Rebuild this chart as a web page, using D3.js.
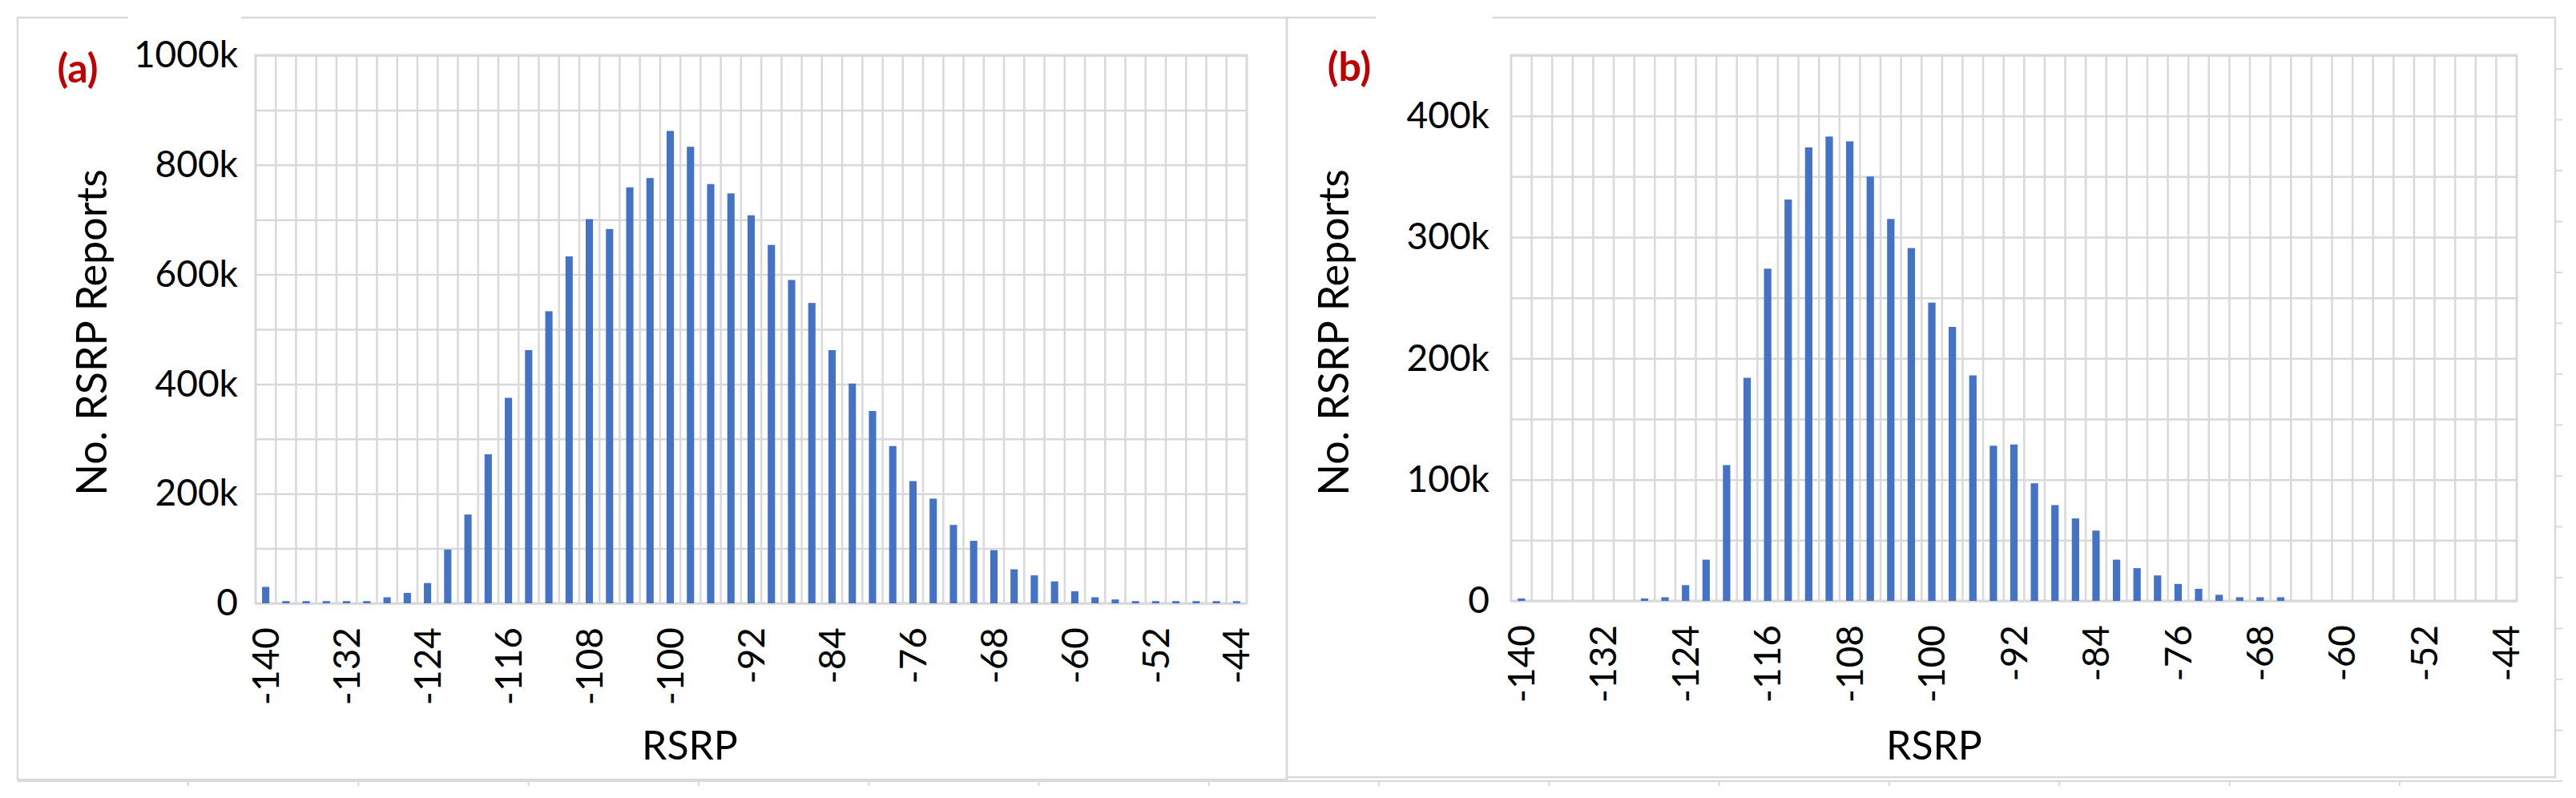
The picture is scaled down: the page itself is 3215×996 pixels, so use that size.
<!DOCTYPE html>
<html>
<head>
<meta charset="utf-8">
<script src="https://cdn.jsdelivr.net/npm/d3@7"></script>
<style>
    html, body { margin: 0; padding: 0; background: #fff; }
    svg { display: block; font-family: Lato, "Open Sans", sans-serif; }
</style>
</head>
<body>
<div id="chart"></div>
<script>
// RSRP bins (dBm), one bar each
const rsrp = [-140, -138, -136, -134, -132, -130, -128, -126, -124, -122,
              -120, -118, -116, -114, -112, -110, -108, -106, -104, -102,
              -100, -98, -96, -94, -92, -90, -88, -86, -84, -82,
              -80, -78, -76, -74, -72, -70, -68, -66, -64, -62,
              -60, -58, -56, -54, -52, -50, -48, -46, -44];

const xTickLabels = [-140, -132, -124, -116, -108, -100, -92, -84, -76, -68, -60, -52, -44];

// no. of RSRP reports, in thousands
const reportsA = [30, 4, 4, 4, 4, 4, 11, 19, 37, 98,
                  162, 272, 375, 462, 533, 633, 701, 683, 759, 776,
                  862, 833, 765, 748, 708, 654, 590, 548, 462, 401,
                  351, 287, 223, 191, 143, 114, 97, 62, 51, 40,
                  22, 11, 7, 4, 4, 4, 4, 4, 4];

const reportsB = [2, 0, 0, 0, 0, 0, 2, 3, 13, 34,
                  112, 184, 274, 331, 374, 383, 379, 350, 315, 291,
                  246, 226, 186, 128, 129, 97, 79, 68, 58, 34,
                  27, 21, 14, 10, 5, 3, 3, 3, 0, 0,
                  0, 0, 0, 0, 0, 0, 0, 0, 0];

const yTicksA = [0, 200, 400, 600, 800, 1000];
const yTicksB = [0, 100, 200, 300, 400];

document.addEventListener('DOMContentLoaded', function() {
    const width = 3215;
    const height = 996;
    const gridColor = '#d9d9d9';
    const barColor = '#4472C4';

    const svg = d3.select('#chart').append('svg')
        .attr('width', width)
        .attr('height', height);

    svg.append('rect').attr('width', width).attr('height', height).attr('fill', '#fff');

    // faint frame of the sheet behind the two charts
    const bg = svg.append('g').attr('stroke', gridColor).attr('stroke-width', 2).attr('fill', 'none');
    bg.append('line').attr('x1', 22).attr('x2', 3198).attr('y1', 975).attr('y2', 975);
    d3.range(235, 3198, 212.3).forEach(function(x) {
        bg.append('line').attr('x1', x).attr('x2', x).attr('y1', 975).attr('y2', 981);
    });
    d3.range(86, 970, 63.5).forEach(function(y) {
        bg.append('line').attr('x1', 3189).attr('x2', 3198).attr('y1', y).attr('y2', y);
    });

    const fmt = function(d) { return d === 0 ? '0' : d + 'k'; };

    function drawPanel(p) {
        const g = svg.append('g');

        // panel border, with the gap behind the panel tag
        g.append('path')
            .attr('d', 'M' + p.gapEnd + ',' + p.box[1] + 'H' + p.box[2] + 'V' + p.box[3] +
                       'H' + p.box[0] + 'V' + p.box[1] + 'H' + p.gapStart)
            .attr('fill', 'none')
            .attr('stroke', gridColor)
            .attr('stroke-width', 2.5);

        const x = d3.scaleBand()
            .domain(rsrp)
            .range([p.left, p.right])
            .padding(0);

        const y = d3.scaleLinear()
            .domain([0, p.yMax])
            .range([p.bottom, p.top]);

        // horizontal gridlines
        g.append('g')
            .attr('transform', 'translate(' + p.left + ',0)')
            .call(d3.axisLeft(y).tickValues(y.ticks(p.gridCount)).tickSize(-(p.right - p.left)).tickFormat(''))
            .call(function(a) {
                a.select('.domain').remove();
                a.selectAll('line').attr('stroke', gridColor).attr('stroke-width', 2.5);
            });

        // vertical gridlines on the category boundaries
        g.append('g').selectAll('line')
            .data(rsrp.slice(1))
            .enter().append('line')
            .attr('x1', function(d) { return x(d); })
            .attr('x2', function(d) { return x(d); })
            .attr('y1', p.top)
            .attr('y2', p.bottom)
            .attr('stroke', gridColor)
            .attr('stroke-width', 2.5);

        g.append('rect')
            .attr('x', p.left).attr('y', p.top)
            .attr('width', p.right - p.left).attr('height', p.bottom - p.top)
            .attr('fill', 'none')
            .attr('stroke', gridColor)
            .attr('stroke-width', 3);

        const barW = x.bandwidth() * 0.36;
        g.append('g').selectAll('rect')
            .data(p.values)
            .enter().append('rect')
            .attr('x', function(d, i) { return x(rsrp[i]) + (x.bandwidth() - barW) / 2; })
            .attr('y', function(d) { return y(d); })
            .attr('width', barW)
            .attr('height', function(d) { return y(0) - y(d); })
            .attr('fill', barColor);

        // y axis labels
        g.append('g')
            .attr('transform', 'translate(' + p.left + ',0)')
            .call(d3.axisLeft(y).tickValues(p.yTicks).tickSize(0).tickPadding(p.yPad).tickFormat(fmt))
            .call(function(a) {
                a.select('.domain').remove();
                a.attr('font-family', null).attr('font-size', null);
                a.selectAll('text').attr('font-size', 46).attr('fill', '#000');
            });

        // x axis labels, rotated
        g.append('g')
            .attr('transform', 'translate(0,' + p.bottom + ')')
            .call(d3.axisBottom(x).tickValues(xTickLabels).tickSize(0))
            .call(function(a) {
                a.select('.domain').remove();
                a.attr('font-family', null).attr('font-size', null);
                a.selectAll('text')
                    .attr('transform', 'rotate(-90)')
                    .attr('x', -30)
                    .attr('y', 0)
                    .attr('dy', '0.35em')
                    .attr('text-anchor', 'end')
                    .attr('font-size', 46)
                    .attr('fill', '#000');
            });

        g.append('text')
            .attr('transform', 'translate(' + p.yTitleX + ',' + p.yTitleY + ') rotate(-90)')
            .attr('text-anchor', 'middle')
            .attr('font-size', 52)
            .text('No. RSRP Reports');

        g.append('text')
            .attr('x', p.xTitleX)
            .attr('y', 948)
            .attr('text-anchor', 'middle')
            .attr('font-size', 50)
            .text('RSRP');

        g.append('text')
            .attr('x', p.tagX)
            .attr('y', p.tagY)
            .attr('text-anchor', 'middle')
            .attr('font-size', 50)
            .attr('font-weight', 'bold')
            .attr('fill', '#C00000')
            .text(p.tag);
    }

    drawPanel({
        values: reportsA, yTicks: yTicksA, yMax: 1000, gridCount: 10,
        left: 319, right: 1556, top: 69, bottom: 753, yPad: 22,
        box: [22, 22, 1606, 973], gapStart: 160, gapEnd: 301,
        tag: '(a)', tagX: 97, tagY: 103,
        yTitleX: 133, yTitleY: 415, xTitleX: 861
    });

    drawPanel({
        values: reportsB, yTicks: yTicksB, yMax: 450, gridCount: 9,
        left: 1886, right: 3141, top: 69, bottom: 750, yPad: 27,
        box: [1606, 22, 3189, 970], gapStart: 1717, gapEnd: 1863,
        tag: '(b)', tagX: 1684, tagY: 101,
        yTitleX: 1683, yTitleY: 415, xTitleX: 2414
    });
});
</script>
</body>
</html>
